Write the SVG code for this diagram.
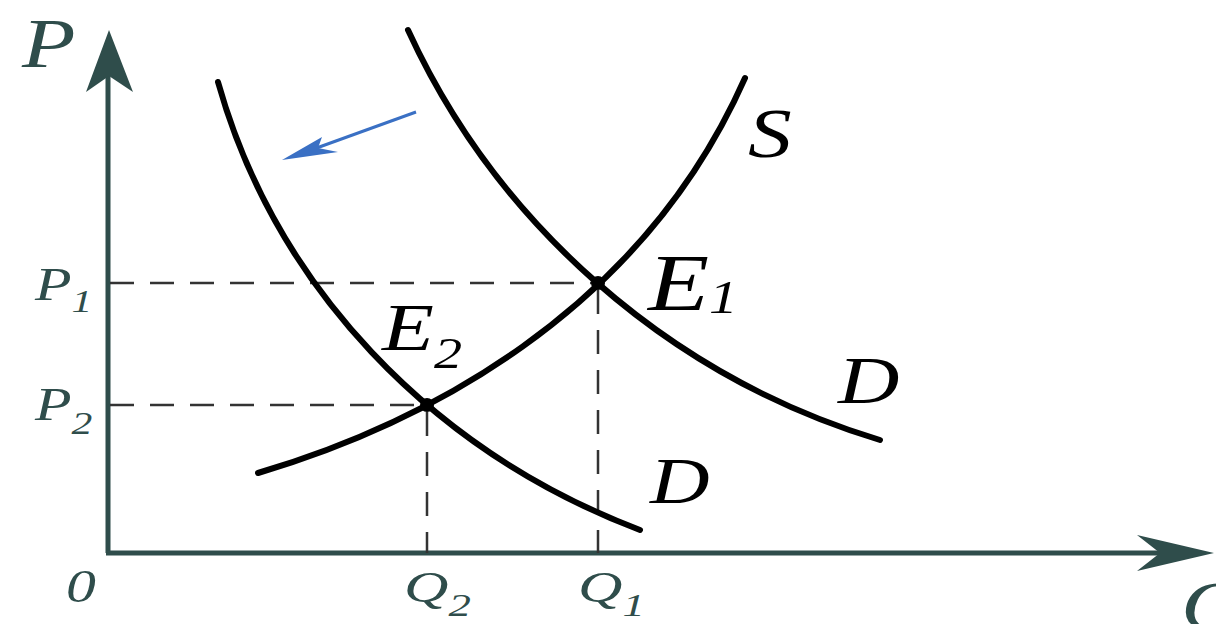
<svg xmlns="http://www.w3.org/2000/svg" width="1216" height="624" viewBox="0 0 1216 624">
<style>
.axis{stroke:#2f4d4b;stroke-width:5;fill:none}
.head{fill:#2f4d4b}
.dash{stroke:#333;stroke-width:2.5;stroke-dasharray:24 16;fill:none}
.curve{stroke:#000;stroke-width:6;fill:none;stroke-linecap:round}
.lab{font-family:"Liberation Serif","Times New Roman",serif;font-style:italic}
.ax{fill:#2f4d4b}
.blk{fill:#000}
</style>
<rect width="1216" height="624" fill="#fff"/>
<g id="axes">
<line class="axis" x1="108" y1="553" x2="108" y2="72"/>
<line class="axis" x1="106" y1="553" x2="1162" y2="553"/>
<path class="head" d="M109,30 L133,92 L109,76 L86,92 Z"/>
<path class="head" d="M1214,553 L1137,535 L1160,553 L1137,571 Z"/>
</g>
<g id="guides">
<line class="dash" x1="110" y1="283" x2="598" y2="283"/>
<line class="dash" x1="110" y1="405" x2="427" y2="405"/>
<line class="dash" x1="598" y1="290" x2="598" y2="553"/>
<line class="dash" x1="427" y1="412" x2="427" y2="553"/>
</g>
<g id="connectors">
<path id="curve-D1" class="curve" d="M408,30 C495,220 665,375 880,440"/>
<path id="curve-D2" class="curve" d="M218,82 C275,285 430,450 640,530"/>
<path id="curve-S" class="curve" d="M258,473 C420,425 640,315 745,78"/>
<g id="shift-arrow">
<line x1="416" y1="112" x2="300" y2="154" stroke="#3a70c4" stroke-width="3"/>
<path d="M282,160 L322,137 L318,148 L338,152 Z" fill="#3a70c4"/>
</g>
</g>
<g id="E1">
<circle cx="598" cy="283" r="7" fill="#000"/>
<text class="lab blk" transform="translate(648,310) scale(1.25,1)" font-size="80">E<tspan font-size="46" dy="3">1</tspan></text>
</g>
<g id="E2">
<circle cx="427" cy="405" r="7" fill="#000"/>
<text class="lab blk" transform="translate(382,350) scale(1.25,1)" font-size="68">E<tspan font-size="45" dy="18">2</tspan></text>
</g>
<g id="labels">
<text class="lab ax" transform="translate(22,67) scale(1.25,1)" font-size="70">P</text>
<text class="lab ax" transform="translate(35,300) scale(1.3,1)" font-size="46">P<tspan font-size="32" dy="12">1</tspan></text>
<text class="lab ax" transform="translate(35,420) scale(1.3,1)" font-size="46">P<tspan font-size="32" dy="14">2</tspan></text>
<text class="lab ax" transform="translate(66,602) scale(1.3,1)" font-size="46">0</text>
<text class="lab ax" transform="translate(404,602) scale(1.4,1)" font-size="44">Q<tspan font-size="32" dy="14">2</tspan></text>
<text class="lab ax" transform="translate(578,602) scale(1.4,1)" font-size="44">Q<tspan font-size="32" dy="14">1</tspan></text>
<text class="lab ax" transform="translate(1181,630) scale(1.25,1)" font-size="70">Q</text>
<text class="lab blk" transform="translate(748,157) scale(1.25,1)" font-size="70">S</text>
<text class="lab blk" transform="translate(838,403) scale(1.25,1)" font-size="68">D</text>
<text class="lab blk" transform="translate(650,503) scale(1.25,1)" font-size="66">D</text>
</g>
</svg>
